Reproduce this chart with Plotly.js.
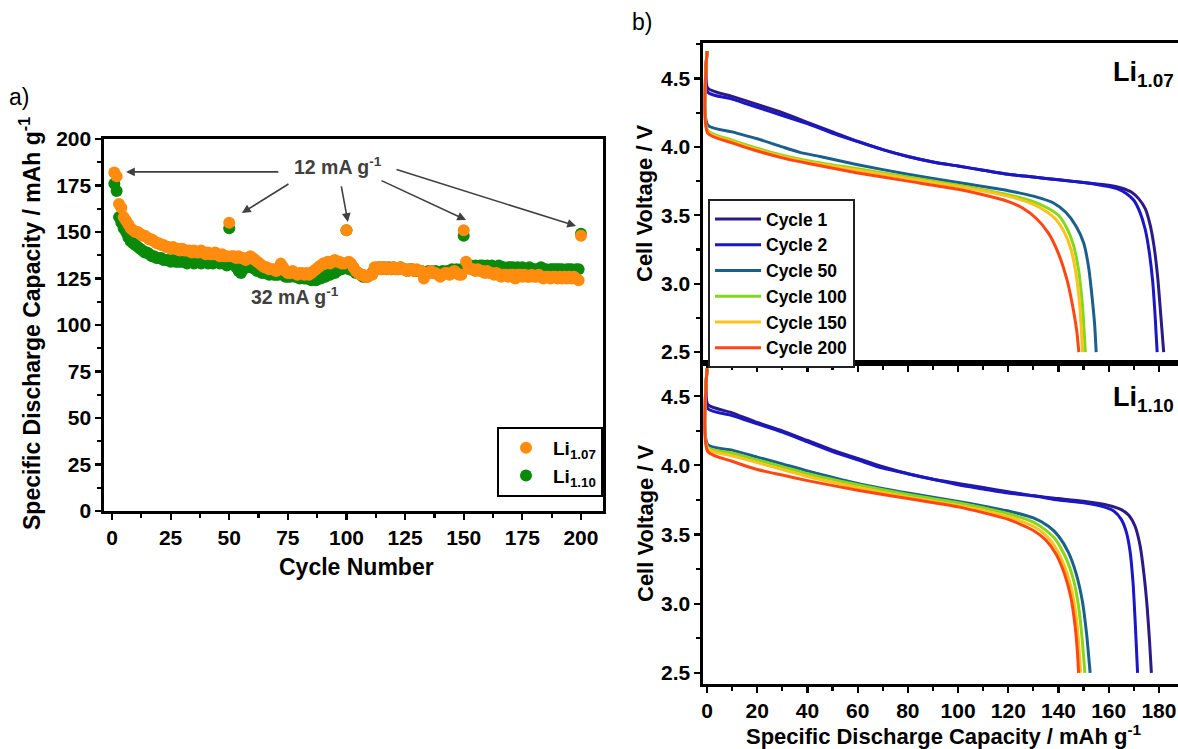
<!DOCTYPE html>
<html>
<head>
<meta charset="utf-8">
<script src="https://cdn.plot.ly/plotly-3.0.1.min.js"></script>
<style>
  html, body { margin: 0; padding: 0; background: #fff; overflow: hidden; }
  #chart { width: 1178px; height: 749px; }
</style>
</head>
<body>
<div id="chart"></div>
<script>
// ---------- (a) capacity retention over 200 cycles ----------
const cycleCount = 200;
const capLi107 = [
  182, 180, 165, 163, 158, 156, 154, 152, 151, 150,
  150, 149, 148, 148, 147, 146, 146, 145, 144, 144,
  143, 143, 142, 142, 141, 142, 141, 141, 140, 141,
  140, 140, 140, 139, 140, 139, 139, 140, 139, 138,
  139, 138, 138, 139, 138, 137, 138, 137, 137, 155,
  137, 137, 136, 137, 136, 136, 135, 136, 137, 136,
  135, 134, 133, 132, 131, 131, 130, 130, 130, 129,
  130, 133, 131, 129, 128, 128, 129, 128, 127, 128,
  128, 127, 128, 127, 128, 129, 130, 131, 132, 133,
  133, 134, 133, 134, 135, 134, 134, 133, 133, 151,
  134, 133, 131, 129, 128, 127, 127, 126, 126, 127,
  127, 131, 131, 130, 131, 130, 131, 130, 130, 131,
  130, 130, 131, 130, 130, 129, 130, 130, 129, 130,
  129, 129, 125, 127, 128, 129, 128, 128, 127, 126,
  127, 128, 128, 127, 128, 129, 128, 127, 127, 151,
  134, 131, 130, 130, 129, 130, 129, 129, 128, 129,
  128, 128, 127, 128, 127, 126, 127, 127, 126, 127,
  127, 125, 127, 127, 126, 127, 126, 126, 127, 126,
  126, 127, 126, 125, 126, 126, 125, 126, 126, 125,
  126, 125, 126, 125, 126, 125, 126, 125, 124, 148
];
const capLi110 = [
  176, 172, 158, 155, 152, 150, 147, 145, 144, 143,
  142, 141, 140, 139, 139, 138, 137, 137, 136, 136,
  136, 135, 135, 135, 134, 135, 134, 134, 134, 134,
  134, 133, 134, 134, 133, 134, 134, 133, 134, 134,
  133, 134, 133, 134, 134, 133, 134, 133, 132, 152,
  133, 133, 131, 129, 128, 130, 131, 132, 131, 131,
  130, 129, 129, 128, 128, 128, 127, 128, 127, 127,
  127, 128, 127, 126, 126, 126, 127, 126, 126, 125,
  126, 125, 125, 125, 124, 125, 124, 125, 125, 126,
  126, 127, 127, 128, 128, 129, 130, 130, 131, 151,
  130, 130, 129, 128, 128, 127, 126, 126, 126, 127,
  128, 130, 130, 131, 130, 131, 130, 131, 130, 131,
  130, 130, 131, 130, 130, 129, 130, 130, 129, 129,
  129, 129, 128, 128, 129, 129, 128, 129, 128, 128,
  129, 128, 129, 129, 130, 129, 130, 129, 130, 148,
  132, 131, 132, 131, 132, 131, 132, 132, 131, 132,
  131, 132, 131, 131, 132, 131, 131, 130, 131, 131,
  131, 130, 131, 130, 131, 130, 130, 131, 130, 130,
  130, 130, 131, 130, 130, 129, 130, 130, 130, 130,
  130, 130, 129, 130, 130, 130, 129, 130, 130, 149
];
const cycles = Array.from({ length: cycleCount }, (_, i) => i + 1);

// ---------- (b) discharge profiles, Li1.07 ----------
const l107c1Cap = [0, 0.3, 10, 20, 30, 40, 50, 60, 70, 80, 90, 100, 110, 120, 130, 140, 150, 160, 165, 169, 172, 174.5, 176.5, 178, 179.5, 180.7, 181.9];
const l107c1V   = [4.70, 4.43, 4.37, 4.31, 4.25, 4.18, 4.11, 4.04, 3.98, 3.93, 3.89, 3.86, 3.83, 3.80, 3.78, 3.76, 3.74, 3.72, 3.70, 3.67, 3.62, 3.55, 3.43, 3.28, 3.05, 2.78, 2.50];
const l107c2Cap = [0, 0.3, 10, 20, 30, 40, 50, 60, 70, 80, 90, 100, 110, 120, 130, 140, 150, 160, 164, 167, 170, 172.5, 174.5, 176, 177.5, 178.5, 179.3];
const l107c2V   = [4.70, 4.40, 4.35, 4.29, 4.23, 4.17, 4.10, 4.04, 3.98, 3.93, 3.89, 3.86, 3.83, 3.80, 3.78, 3.76, 3.74, 3.71, 3.69, 3.66, 3.61, 3.52, 3.40, 3.25, 3.02, 2.76, 2.50];
const l107c50Cap = [0, 0.3, 10, 20, 30, 37, 45, 60, 80, 100, 120, 130, 138, 143, 147, 150, 152, 153.5, 154.4, 155];
const l107c50V   = [4.70, 4.16, 4.11, 4.06, 4.00, 3.96, 3.93, 3.87, 3.80, 3.74, 3.68, 3.64, 3.59, 3.52, 3.42, 3.30, 3.12, 2.88, 2.70, 2.50];
const l107c100Cap = [0, 0.3, 10, 20, 30, 40, 60, 80, 100, 120, 130, 136, 140, 143.5, 146, 148, 149.5, 150.7];
const l107c100V   = [4.70, 4.12, 4.05, 3.99, 3.94, 3.90, 3.84, 3.78, 3.72, 3.65, 3.60, 3.55, 3.50, 3.40, 3.28, 3.10, 2.85, 2.50];
const l107c150Cap = [0, 0.3, 10, 20, 30, 40, 60, 80, 100, 120, 130, 135, 139, 142.5, 145, 147, 148.5, 149.6];
const l107c150V   = [4.70, 4.11, 4.04, 3.98, 3.93, 3.89, 3.83, 3.77, 3.71, 3.64, 3.58, 3.53, 3.47, 3.37, 3.25, 3.07, 2.83, 2.50];
const l107c200Cap = [0, 0.3, 10, 20, 30, 40, 60, 80, 100, 110, 120, 126, 131, 136, 140, 143.5, 146, 147.3, 148.1];
const l107c200V   = [4.70, 4.10, 4.03, 3.97, 3.92, 3.88, 3.81, 3.75, 3.69, 3.65, 3.60, 3.55, 3.48, 3.37, 3.22, 3.02, 2.80, 2.65, 2.50];

// ---------- (b) discharge profiles, Li1.10 ----------
const l110c1Cap = [0, 0.3, 10, 20, 30, 40, 50, 60, 70, 80, 90, 100, 110, 120, 130, 140, 150, 160, 165, 168, 170.5, 172.5, 174, 175.3, 176.3, 177];
const l110c1V   = [4.70, 4.44, 4.38, 4.31, 4.25, 4.18, 4.11, 4.05, 3.99, 3.94, 3.90, 3.87, 3.84, 3.81, 3.78, 3.76, 3.74, 3.71, 3.68, 3.64, 3.56, 3.42, 3.22, 2.98, 2.72, 2.50];
const l110c2Cap = [0, 0.3, 10, 20, 30, 40, 50, 60, 70, 80, 90, 100, 110, 120, 130, 140, 150, 158, 162, 165, 167, 168.5, 169.7, 170.6, 171.5];
const l110c2V   = [4.70, 4.41, 4.36, 4.30, 4.24, 4.17, 4.10, 4.04, 3.98, 3.94, 3.90, 3.86, 3.83, 3.80, 3.78, 3.75, 3.73, 3.70, 3.67, 3.61, 3.52, 3.38, 3.15, 2.85, 2.50];
const l110c50Cap = [0, 0.3, 10, 20, 30, 40, 60, 80, 100, 120, 130, 136, 140, 144, 147, 149.5, 151.2, 152.6];
const l110c50V   = [4.70, 4.15, 4.11, 4.06, 4.01, 3.96, 3.87, 3.80, 3.74, 3.67, 3.62, 3.56, 3.49, 3.37, 3.22, 3.02, 2.78, 2.50];
const l110c100Cap = [0, 0.3, 10, 20, 30, 40, 60, 80, 100, 120, 130, 135, 139, 143, 146, 148, 149.4, 150.5];
const l110c100V   = [4.70, 4.13, 4.09, 4.04, 3.99, 3.94, 3.86, 3.79, 3.73, 3.65, 3.59, 3.53, 3.46, 3.33, 3.17, 2.98, 2.75, 2.50];
const l110c150Cap = [0, 0.3, 10, 20, 30, 40, 60, 80, 100, 120, 130, 134, 138, 142, 145, 146.8, 148, 148.8];
const l110c150V   = [4.70, 4.12, 4.07, 4.02, 3.97, 3.92, 3.84, 3.77, 3.71, 3.63, 3.56, 3.51, 3.43, 3.29, 3.12, 2.94, 2.72, 2.50];
const l110c200Cap = [0, 0.3, 10, 20, 30, 40, 60, 80, 100, 120, 130, 135, 139, 142.5, 145, 146.6, 147.5, 148];
const l110c200V   = [4.70, 4.10, 4.03, 3.97, 3.93, 3.89, 3.82, 3.76, 3.70, 3.61, 3.53, 3.46, 3.36, 3.21, 3.04, 2.84, 2.66, 2.50];

const cycleLabels = ['Cycle 1', 'Cycle 2', 'Cycle 50', 'Cycle 100', 'Cycle 150', 'Cycle 200'];
const cycleColors = ['#2c1a86', '#1b16c6', '#1b5f8c', '#84d81c', '#ffc21a', '#ff4714'];

// ---------- layout helpers (pixel -> paper) ----------
const W = 1178, H = 749;
const px = v => v / W;
const py = v => 1 - v / H;
const FONT = 'Liberation Sans, Arial, Helvetica, sans-serif';
const bold = (size, color) => ({ family: FONT, size: size, color: color || '#000', weight: 'bold' });

const traces = [];

// capacity vs cycle (green drawn first so orange sits on top)
traces.push({
  x: cycles, y: capLi110, type: 'scatter', mode: 'markers', name: 'Li<sub>1.10</sub>',
  marker: { color: '#0a8a0a', size: 12 }, xaxis: 'x', yaxis: 'y', legend: 'legend'
});
traces.push({
  x: cycles, y: capLi107, type: 'scatter', mode: 'markers', name: 'Li<sub>1.07</sub>',
  marker: { color: '#ff8c0f', size: 12 }, xaxis: 'x', yaxis: 'y', legend: 'legend'
});

const curvesLi107 = [[l107c1Cap, l107c1V], [l107c2Cap, l107c2V], [l107c50Cap, l107c50V],
                     [l107c100Cap, l107c100V], [l107c150Cap, l107c150V], [l107c200Cap, l107c200V]];
const curvesLi110 = [[l110c1Cap, l110c1V], [l110c2Cap, l110c2V], [l110c50Cap, l110c50V],
                     [l110c100Cap, l110c100V], [l110c150Cap, l110c150V], [l110c200Cap, l110c200V]];

curvesLi107.forEach((d, i) => traces.push({
  x: d[0], y: d[1], type: 'scatter', mode: 'lines', name: cycleLabels[i],
  line: { color: cycleColors[i], width: 3, shape: 'spline', smoothing: 0.6 },
  xaxis: 'x2', yaxis: 'y2', legend: 'legend2'
}));
curvesLi110.forEach((d, i) => traces.push({
  x: d[0], y: d[1], type: 'scatter', mode: 'lines', name: cycleLabels[i],
  line: { color: cycleColors[i], width: 3, shape: 'spline', smoothing: 0.6 },
  xaxis: 'x3', yaxis: 'y3', showlegend: false
}));

const axisBase = {
  showline: true, linecolor: '#000', linewidth: 2.6, mirror: true,
  ticks: 'outside', ticklen: 6, tickwidth: 2.2, tickcolor: '#000',
  showgrid: false, zeroline: false, tickfont: bold(21), fixedrange: true
};

const arrow = (hx, hy, tx, ty) => ({
  x: hx, y: hy, ax: tx, ay: ty, xref: 'x', yref: 'y', axref: 'x', ayref: 'y',
  text: '', showarrow: true, arrowhead: 2, arrowsize: 1.1, arrowwidth: 1.6,
  arrowcolor: '#404040', standoff: 0, startstandoff: 0
});

// free text placed by pixel centre
const label = (text, x, y, font, extra) => Object.assign({
  text: text, x: px(x), y: py(y), xref: 'paper', yref: 'paper',
  xanchor: 'center', yanchor: 'middle', showarrow: false, font: font
}, extra || {});

const annotations = [
  label('a)', 19, 97, { family: FONT, size: 23, color: '#000' }),
  label('b)', 642, 22, { family: FONT, size: 23, color: '#000' }),
  label('Specific Discharge Capacity / mAh g<sup>-1</sup>', 30, 324, bold(23), { textangle: -90 }),
  label('Cycle Number', 356, 567, bold(23)),
  label('12 mA g<sup>-1</sup>', 338, 166, bold(19.5, '#404040')),
  label('32 mA g<sup>-1</sup>', 295, 296, bold(19.5, '#404040')),
  arrow(6.0, 182.3, 71.6, 182.3),
  arrow(55.4, 160.2, 75.9, 176.3),
  arrow(100.6, 155.4, 97.7, 175.3),
  arrow(151.0, 156.5, 114.3, 178.0),
  arrow(197.9, 153.2, 120.7, 183.9),
  label('Cell Voltage / V', 645, 203, bold(22), { textangle: -90 }),
  label('Cell Voltage / V', 645, 523, bold(22), { textangle: -90 }),
  label('Specific Discharge Capacity / mAh g<sup>-1</sup>', 944, 735, bold(22)),
  label('Li<sub>1.07</sub>', 1176, 74, bold(27), { xanchor: 'right' }),
  label('Li<sub>1.10</sub>', 1176, 399, bold(27), { xanchor: 'right' })
];

const minorTicks = dt => ({ dtick: dt, tick0: 0, ticks: 'outside', ticklen: 4, tickwidth: 2.2, tickcolor: '#000' });

const layout = {
  width: W, height: H,
  margin: { l: 0, r: 0, t: 0, b: 0 },
  paper_bgcolor: '#fff', plot_bgcolor: '#fff',
  font: { family: FONT, color: '#000' },
  xaxis: Object.assign({}, axisBase, {
    domain: [px(104), px(603)], range: [-3.4, 209.4], tickvals: [0, 25, 50, 75, 100, 125, 150, 175, 200],
    minor: minorTicks(12.5), anchor: 'y'
  }),
  yaxis: Object.assign({}, axisBase, {
    domain: [py(511), py(139)], range: [0, 200], dtick: 25, tick0: 0,
    minor: minorTicks(12.5), anchor: 'x'
  }),
  xaxis2: Object.assign({}, axisBase, {
    domain: [px(703), 1], range: [-1.6, 187.6], dtick: 20, tick0: 0, showticklabels: false,
    minor: minorTicks(10), anchor: 'y2'
  }),
  yaxis2: Object.assign({}, axisBase, {
    domain: [py(363), py(43)], range: [2.42, 4.76], tickvals: [2.5, 3.0, 3.5, 4.0, 4.5],
    ticktext: ['2.5', '3.0', '3.5', '4.0', '4.5'], mirror: false,
    minor: minorTicks(0.25), anchor: 'x2'
  }),
  xaxis3: Object.assign({}, axisBase, {
    domain: [px(703), 1], range: [-1.6, 187.6], dtick: 20, tick0: 0,
    minor: minorTicks(10), anchor: 'y3'
  }),
  yaxis3: Object.assign({}, axisBase, {
    domain: [py(684), py(363)], range: [2.42, 4.74], tickvals: [2.5, 3.0, 3.5, 4.0, 4.5],
    ticktext: ['2.5', '3.0', '3.5', '4.0', '4.5'], mirror: false,
    minor: minorTicks(0.25), anchor: 'x3'
  }),
  legend: {
    x: px(497), y: py(427), xanchor: 'left', yanchor: 'top',
    bgcolor: '#fff', bordercolor: '#000', borderwidth: 2,
    font: bold(19), traceorder: 'reversed', itemwidth: 44
  },
  legend2: {
    x: px(708), y: py(199), xanchor: 'left', yanchor: 'top',
    bgcolor: '#fff', bordercolor: '#222', borderwidth: 2,
    font: bold(17.5), traceorder: 'normal', itemwidth: 46
  },
  annotations: annotations,
  showlegend: true
};

Plotly.newPlot('chart', traces, layout, { staticPlot: true, displayModeBar: false });
</script>
</body>
</html>
